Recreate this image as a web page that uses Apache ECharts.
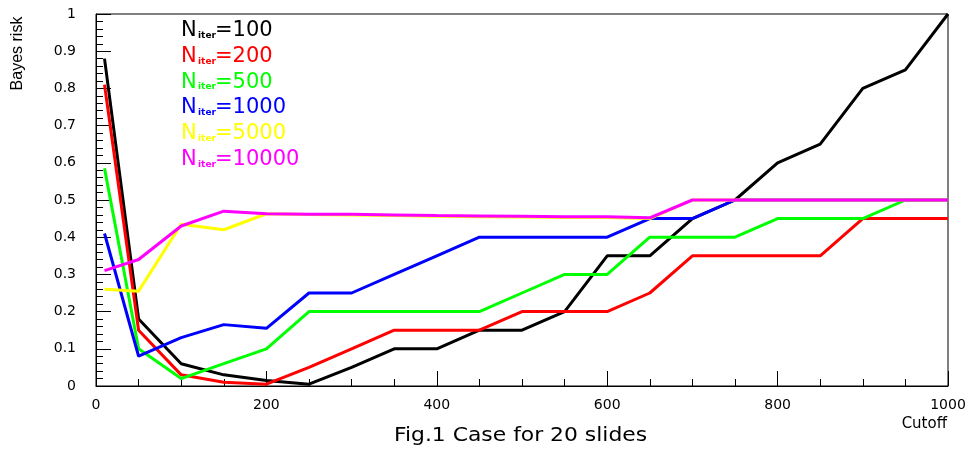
<!DOCTYPE html>
<html>
<head>
<meta charset="utf-8">
<script src="https://cdn.jsdelivr.net/npm/echarts@6/dist/echarts.min.js"></script>
<style>html,body{margin:0;padding:0;background:#fff;}#c{width:972px;height:451px;}</style>
</head>
<body>
<div id="c"></div>
<script>
var cutoffs = [10,50,100,150,200,250,300,350,400,450,500,550,600,650,700,750,800,850,900,950,1000];
var risk100   = [0.88,0.18,0.06,0.03,0.015,0.005,0.05,0.1,0.1,0.15,0.15,0.2,0.35,0.35,0.45,0.5,0.6,0.65,0.8,0.85,1.0];
var risk200   = [0.81,0.15,0.03,0.01,0.005,0.05,0.1,0.15,0.15,0.15,0.2,0.2,0.2,0.25,0.35,0.35,0.35,0.35,0.45,0.45,0.45];
var risk500   = [0.585,0.1,0.02,0.06,0.1,0.2,0.2,0.2,0.2,0.2,0.25,0.3,0.3,0.4,0.4,0.4,0.45,0.45,0.45,0.5,0.5];
var risk1000  = [0.41,0.08,0.13,0.165,0.155,0.25,0.25,0.3,0.35,0.4,0.4,0.4,0.4,0.45,0.45,0.5,0.5,0.5,0.5,0.5,0.5];
var risk5000  = [0.26,0.255,0.435,0.42,0.463,0.461,0.46,0.458,0.456,0.455,0.454,0.453,0.453,0.45,0.5,0.5,0.5,0.5,0.5,0.5,0.5];
var risk10000 = [0.31,0.34,0.43,0.47,0.463,0.462,0.462,0.46,0.458,0.457,0.456,0.455,0.455,0.452,0.5,0.5,0.5,0.5,0.5,0.5,0.5];
var iterLabels = ['100','200','500','1000','5000','10000'];
var seriesColors = ['#000000','#ff0000','#00ff00','#0000ff','#ffff00','#ff00ff'];
var allRisk = [risk100, risk200, risk500, risk1000, risk5000, risk10000];
var xTicks = [0,200,400,600,800,1000];

var FONT = '"DejaVu Sans", "Liberation Sans", sans-serif';
var FONT2 = '"Liberation Sans", "DejaVu Sans", sans-serif';
var chart = echarts.init(document.getElementById('c'), null, {renderer:'canvas'});

var series = allRisk.map(function(arr, i){
  return {
    name: 'N' + iterLabels[i],
    type: 'line',
    data: cutoffs.map(function(x, j){ return [x, arr[j]]; }),
    showSymbol: false,
    lineStyle: {color: seriesColors[i], width: 3},
    itemStyle: {color: seriesColors[i]},
    z: 2 + i,
    animation: false
  };
});

var graphics = [];
iterLabels.forEach(function(lab, i){
  var yc = 30.5 + i * 25.8;
  var c = seriesColors[i];
  graphics.push({type:'text', x:181, y:yc, style:{text:'N', fill:c, font:'21px ' + FONT, verticalAlign:'middle'}});
  graphics.push({type:'text', x:198, y:yc + 5, style:{text:'iter', fill:c, font:'bold 9px ' + FONT, verticalAlign:'middle'}});
  graphics.push({type:'text', x:215, y:yc, style:{text:'=' + lab, fill:c, font:'21px ' + FONT, verticalAlign:'middle'}});
});
graphics.push({type:'text', x:18, y:53.5, rotation:Math.PI/2, style:{text:'Bayes risk', fill:'#000', font:'16px ' + FONT2, align:'center', verticalAlign:'middle'}});
graphics.push({type:'text', x:947, y:424, style:{text:'Cutoff', fill:'#000', font:'15px ' + FONT, align:'right', verticalAlign:'middle'}});
graphics.push({type:'text', x:394, y:436, scaleX:1.15, style:{text:'Fig.1 Case for 20 slides', fill:'#000', font:'19px ' + FONT, align:'left', verticalAlign:'middle'}});

chart.setOption({
  animation: false,
  backgroundColor: '#fff',
  grid: {left:96, right:24, top:14, bottom:65, show:true, borderColor:'#000', borderWidth:1, backgroundColor:'transparent'},
  xAxis: {
    type:'value', min:0, max:1000, interval:200,
    axisLine:{show:true, lineStyle:{color:'#000', width:1}},
    axisTick:{show:true, inside:true, length:15, lineStyle:{color:'#000'}},
    minorTick:{show:true, splitNumber:4, length:7, lineStyle:{color:'#000'}},
    splitLine:{show:false},
    axisLabel:{color:'#000', fontSize:14, fontFamily:FONT, margin:12,
      formatter:function(v){ return xTicks.indexOf(v) >= 0 ? String(v) : ''; }}
  },
  yAxis: {
    type:'value', min:0, max:1, interval:0.1,
    axisLine:{show:true, lineStyle:{color:'#000', width:1}},
    axisTick:{show:true, inside:true, length:15, lineStyle:{color:'#000'}},
    minorTick:{show:true, splitNumber:5, length:7, lineStyle:{color:'#000'}},
    splitLine:{show:false},
    axisLabel:{color:'#000', fontSize:14, fontFamily:FONT, margin:20,
      formatter:function(v){ return String(Math.round(v*10)/10); }}
  },
  graphic: graphics,
  series: series
});
</script>
</body>
</html>
